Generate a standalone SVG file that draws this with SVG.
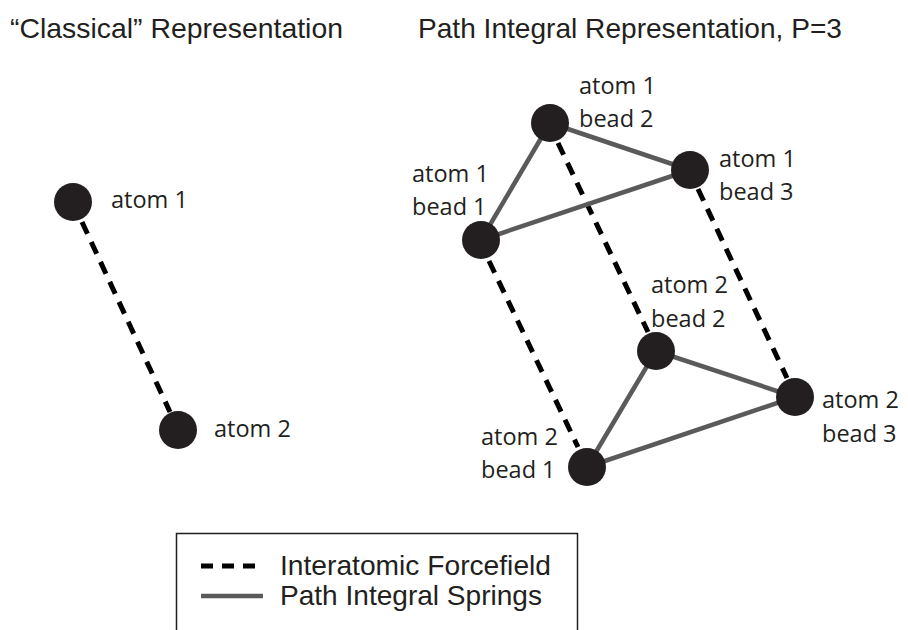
<svg xmlns="http://www.w3.org/2000/svg" width="908" height="630" viewBox="0 0 908 630">
<style>
.title{font-family:"Liberation Sans",Arial,sans-serif;font-size:28px;fill:#231f20}
.lbl{font-family:"Open Sans","Liberation Sans",sans-serif;font-size:23.5px;fill:#231f20}
.leg{font-family:"Liberation Sans",Arial,sans-serif;font-size:28px;fill:#231f20}
.dash{stroke:#000;stroke-width:5;stroke-dasharray:13 9;fill:none}
.spring{stroke:#5a5a5a;stroke-width:4.5;fill:none}
.atom{fill:#231f20}
</style>
<rect width="908" height="630" fill="#fff"/>
<text class="title" x="10" y="38" textLength="333" lengthAdjust="spacingAndGlyphs">“Classical” Representation</text>
<text class="title" x="418" y="38" textLength="424" lengthAdjust="spacingAndGlyphs">Path Integral Representation, P=3</text>
<g id="connectors">
<line class="dash" x1="82" y1="222" x2="170" y2="412"/>
<line class="dash" x1="489" y1="261" x2="578" y2="447"/>
<line class="dash" x1="558" y1="143" x2="648" y2="332"/>
<line class="dash" x1="698" y1="189" x2="787" y2="378"/>
<line class="spring" x1="481" y1="240" x2="550" y2="123"/>
<line class="spring" x1="550" y1="123" x2="690" y2="170"/>
<line class="spring" x1="690" y1="170" x2="481" y2="240"/>
<line class="spring" x1="587" y1="467" x2="656" y2="351"/>
<line class="spring" x1="656" y1="351" x2="795" y2="397"/>
<line class="spring" x1="795" y1="397" x2="587" y2="467"/>
</g>
<g id="c_atom1"><circle class="atom" cx="73" cy="202" r="19"/><text class="lbl" x="111" y="208">atom 1</text></g>
<g id="c_atom2"><circle class="atom" cx="178" cy="430" r="19"/><text class="lbl" x="214" y="437">atom 2</text></g>
<g id="a1b1"><circle class="atom" cx="481" cy="240" r="19"/><text class="lbl" x="412" y="182">atom 1</text><text class="lbl" x="412" y="215">bead 1</text></g>
<g id="a1b2"><circle class="atom" cx="550" cy="123" r="19"/><text class="lbl" x="579" y="94">atom 1</text><text class="lbl" x="579" y="127">bead 2</text></g>
<g id="a1b3"><circle class="atom" cx="690" cy="170" r="19"/><text class="lbl" x="719" y="167">atom 1</text><text class="lbl" x="719" y="200">bead 3</text></g>
<g id="a2b1"><circle class="atom" cx="587" cy="467" r="19"/><text class="lbl" x="481" y="445">atom 2</text><text class="lbl" x="481" y="478">bead 1</text></g>
<g id="a2b2"><circle class="atom" cx="656" cy="351" r="19"/><text class="lbl" x="651" y="293">atom 2</text><text class="lbl" x="651" y="327">bead 2</text></g>
<g id="a2b3"><circle class="atom" cx="795" cy="397" r="19"/><text class="lbl" x="822" y="408">atom 2</text><text class="lbl" x="822" y="442">bead 3</text></g>
<g id="legend">
<rect x="176.5" y="533.5" width="401" height="110" fill="none" stroke="#231f20" stroke-width="1.5"/>
<line x1="201" y1="566" x2="263" y2="566" stroke="#000" stroke-width="5" stroke-dasharray="12 9"/>
<line x1="201" y1="596" x2="263" y2="596" stroke="#5a5a5a" stroke-width="4.5"/>
<text class="leg" x="280" y="575" textLength="271" lengthAdjust="spacingAndGlyphs">Interatomic Forcefield</text>
<text class="leg" x="280" y="605" textLength="262" lengthAdjust="spacingAndGlyphs">Path Integral Springs</text>
</g>
</svg>
